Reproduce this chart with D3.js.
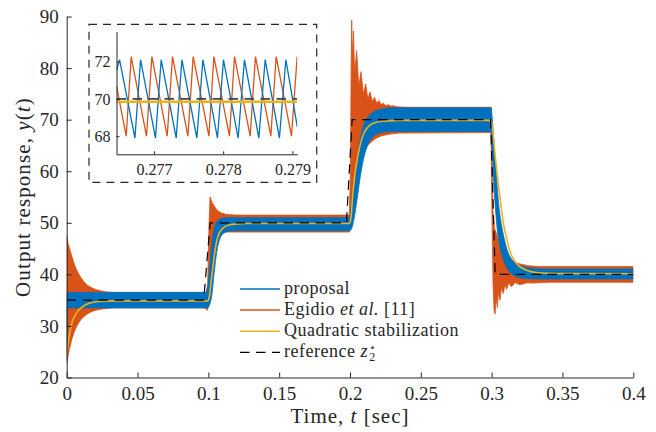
<!DOCTYPE html>
<html>
<head>
<meta charset="utf-8">
<script src="https://cdn.jsdelivr.net/npm/d3@7"></script>
<style>
body { margin: 0; background: #fff; }
text { font-family: 'Liberation Serif', 'Times New Roman', serif; fill: #262626; }
.axis path, .axis line { stroke: #262626; stroke-width: 1; }
</style>
</head>
<body>
<div id="chart"></div>
<script>
// ---- data ----
var xTicks = [0, 0.05, 0.1, 0.15, 0.2, 0.25, 0.3, 0.35, 0.4];
var xTickLabels = ["0", "0.05", "0.1", "0.15", "0.2", "0.25", "0.3", "0.35", "0.4"];
var yTicks = [20, 30, 40, 50, 60, 70, 80, 90];
var yTickLabels = ["20", "30", "40", "50", "60", "70", "80", "90"];

// reference z2*
var refT = [0, 0.0967, 0.1013, 0.1975, 0.2015, 0.2993, 0.3025, 0.4];
var refY = [35, 35, 50, 50, 70, 70, 40, 40];

// proposal: envelope of the fast oscillation (upper / lower)
var blueT  = [0, 0.0004, 0.098, 0.0995, 0.101, 0.1025, 0.104, 0.106, 0.108, 0.111, 0.115, 0.12,
              0.1995, 0.201, 0.203, 0.205, 0.207, 0.2095, 0.212, 0.215, 0.219, 0.2235, 0.23,
              0.2995, 0.3005, 0.302, 0.3035, 0.305, 0.307, 0.309, 0.3115, 0.3145, 0.319, 0.326, 0.335, 0.4];
var blueHi = [36.5, 36.5, 36.5, 37.5, 41.5, 46, 48.8, 50.2, 50.7, 50.95, 51.0, 51.0,
              51.0, 54, 58.5, 62.5, 66, 68.8, 70.3, 71.2, 71.8, 72.1, 72.3,
              72.3, 70, 64, 58.5, 53.5, 49.5, 46.8, 44.3, 42.8, 41.8, 41.3, 41.05, 41.05];
var blueLo = [23.5, 33.5, 33.5, 33.5, 34.2, 36, 40, 44.5, 46.8, 48.0, 48.4, 48.45,
              48.45, 48.8, 51, 54.5, 58.5, 62.3, 64.7, 66.3, 67.2, 67.55, 67.7,
              67.7, 63, 55.5, 50, 46.5, 44, 42.3, 40.9, 40, 39.4, 39.15, 39.1, 39.1];

// Egidio et al.: envelope (upper edge, lower edge)
var orangeHiT = [0, 0.001, 0.002, 0.0035, 0.005, 0.0065, 0.008, 0.01, 0.012, 0.0145, 0.017, 0.02, 0.024, 0.028, 0.033,
                 0.0985, 0.0995, 0.1005, 0.1012, 0.1018, 0.1025, 0.104, 0.106, 0.109, 0.113, 0.12,
                 0.1995, 0.2003, 0.2008, 0.2012, 0.2017, 0.2024, 0.2033, 0.2047, 0.2062, 0.2078, 0.2094, 0.2111,
                 0.2126, 0.2141, 0.2157, 0.2172, 0.219, 0.2205, 0.222, 0.2235, 0.2253, 0.227, 0.229, 0.2306, 0.233, 0.236, 0.24,
                 0.2998, 0.3003, 0.301, 0.302, 0.3035, 0.3055, 0.308, 0.3118, 0.3155, 0.3188, 0.325, 0.333, 0.4];
var orangeHiY = [47.3, 46, 45, 43.6, 42.3, 41.2, 40.3, 39.4, 38.6, 37.9, 37.5, 37.1, 36.8, 36.6, 36.5,
                 36.5, 38, 50, 55, 54.6, 54.0, 53.3, 52.5, 51.9, 51.6, 51.5,
                 51.5, 60, 80, 89.3, 82, 87.2, 79, 83.4, 76.5, 79.3, 75, 76.9,
                 74, 75.4, 73.5, 74.3, 73.2, 73.7, 72.9, 73.2, 72.7, 72.9, 72.6, 72.7, 72.5, 72.45, 72.4,
                 72.4, 62, 52, 49, 47.8, 45.8, 44.2, 43.1, 42.5, 42.1, 41.7, 41.5, 41.5];
var orangeLoT = [0, 0.001, 0.002, 0.0035, 0.005, 0.0065, 0.008, 0.01, 0.012, 0.0145, 0.017, 0.02, 0.024, 0.028, 0.033,
                 0.097, 0.0985, 0.0995, 0.1005, 0.1015, 0.1025, 0.104, 0.106, 0.109, 0.113,
                 0.1995, 0.2005, 0.201, 0.2025, 0.204, 0.206, 0.208, 0.2106, 0.214, 0.2177, 0.2224, 0.2283, 0.235,
                 0.2995, 0.3003, 0.301, 0.3017, 0.3024, 0.3032, 0.304, 0.3048, 0.3059, 0.307, 0.3082, 0.3094, 0.3106,
                 0.312, 0.3141, 0.3165, 0.32, 0.325, 0.3294, 0.34, 0.4];
var orangeLoY = [23.0, 24.2, 25.6, 27.3, 28.6, 29.6, 30.4, 31.2, 31.8, 32.3, 32.7, 33.0, 33.25, 33.4, 33.5,
                 33.5, 33.3, 33.0, 36, 42, 45.5, 46.8, 47.7, 48.1, 48.2,
                 48.2, 49, 52, 56, 59, 61.5, 63.3, 64.4, 65.4, 66.3, 66.9, 67.2, 67.4,
                 67.5, 50, 38, 33, 32.3, 35.5, 33.6, 36.5, 35.0, 37.5, 36.3, 38.0, 37.1,
                 38.3, 37.6, 38.4, 38.0, 38.35, 38.3, 38.46, 38.46];

// Quadratic stabilization
var yellowT = [0, 0.001, 0.0025, 0.004, 0.006, 0.0085, 0.011, 0.015, 0.02, 0.027, 0.035,
               0.0995, 0.1007, 0.102, 0.1035, 0.1047, 0.1059, 0.1075, 0.1094, 0.112, 0.1153, 0.12, 0.127,
               0.1995, 0.2007, 0.2018, 0.2033, 0.2052, 0.2075, 0.21, 0.2135, 0.2175, 0.224, 0.235,
               0.2995, 0.3007, 0.3025, 0.3045, 0.3065, 0.3085, 0.311, 0.313, 0.3176, 0.3247, 0.333, 0.345, 0.4];
var yellowY = [23.8, 26.5, 29.2, 30.9, 32.1, 33.1, 33.7, 34.3, 34.65, 34.8, 34.85,
               34.85, 35.7, 38.8, 42.1, 44.6, 46.5, 47.9, 48.7, 49.3, 49.6, 49.78, 49.85,
               49.85, 51, 55, 59, 62.5, 65.5, 67.5, 68.8, 69.4, 69.7, 69.85,
               69.85, 68, 63, 58, 53.5, 49.6, 46.5, 44.4, 42.1, 40.8, 40.3, 40.15, 40.12];

// zoomed inset
var insetXTicks = [0.277, 0.278, 0.279];
var insetXTickLabels = ["0.277", "0.278", "0.279"];
var insetYTicks = [68, 70, 72];
var insetYTickLabels = ["68", "70", "72"];
var insetBlueT = [0.27646, 0.276504, 0.276726, 0.276807, 0.277023, 0.277105, 0.277322, 0.277404, 0.27762, 0.277707,
                  0.277918, 0.278004, 0.278216, 0.278307, 0.278515, 0.278606, 0.278812, 0.278905, 0.27907];
var insetBlueY = [71.5, 72.1, 67.9, 72.1, 67.9, 72.1, 67.9, 72.1, 67.9, 72.1,
                  67.9, 72.1, 67.9, 72.1, 67.9, 72.1, 67.9, 72.1, 68.5];
var insetOrangeT = [0.27646, 0.2766, 0.276672, 0.276893, 0.276971, 0.277192, 0.277268, 0.277491, 0.277567, 0.277794,
                    0.277866, 0.278091, 0.278163, 0.27839, 0.278466, 0.278688, 0.278765, 0.278986, 0.279068];
var insetOrangeY = [70.7, 68.0, 72.27, 68.0, 72.27, 68.0, 72.27, 68.0, 72.27, 68.0,
                    72.27, 68.0, 72.27, 68.0, 72.27, 68.0, 72.27, 68.0, 72.27];
var insetYellowT = [0.27646, 0.27907];
var insetYellowY = [69.85, 69.85];
var insetRefT = [0.27646, 0.27907];
var insetRefY = [70, 70];

var legendNames = ["proposal", "Egidio", "Quadratic stabilization", "reference"];

// ---- layout ----
var svgWidth = 656, svgHeight = 432;
var blue = "#0072BD", orange = "#D95319", yellow = "#EDB120";

var svg = d3.select("#chart").append("svg")
    .attr("width", svgWidth)
    .attr("height", svgHeight);

var x = d3.scaleLinear().domain([0, 0.4]).range([66.7, 633.3]);
var y = d3.scaleLinear().domain([20, 90]).range([377.5, 16.5]);

svg.append("clipPath").attr("id", "clipMain")
    .append("rect")
    .attr("x", x(0)).attr("y", y(90))
    .attr("width", x(0.4) - x(0)).attr("height", y(20) - y(90));

var plot = svg.append("g").attr("clip-path", "url(#clipMain)");

// Egidio envelope as a closed polygon
var orangePts = orangeHiT.map((t, i) => [t, orangeHiY[i]])
    .concat(orangeLoT.map((t, i) => [t, orangeLoY[i]]).reverse());
plot.append("path")
    .attr("d", d3.line().x(d => x(d[0])).y(d => y(d[1]))(orangePts) + "Z")
    .attr("fill", orange)
    .attr("stroke", orange)
    .attr("stroke-width", 0.8);

// proposal envelope
plot.append("path")
    .datum(blueT)
    .attr("d", d3.area()
        .x(t => x(t))
        .y0((t, i) => y(blueLo[i]))
        .y1((t, i) => y(blueHi[i]))
        .curve(d3.curveMonotoneX))
    .attr("fill", blue)
    .attr("stroke", blue)
    .attr("stroke-width", 0.8);

// quadratic stabilization
plot.append("path")
    .datum(yellowT)
    .attr("d", d3.line().x(t => x(t)).y((t, i) => y(yellowY[i])).curve(d3.curveMonotoneX))
    .attr("fill", "none")
    .attr("stroke", yellow)
    .attr("stroke-width", 1.6);

// reference
plot.append("path")
    .datum(refT)
    .attr("d", d3.line().x(t => x(t)).y((t, i) => y(refY[i])))
    .attr("fill", "none")
    .attr("stroke", "#000")
    .attr("stroke-width", 1.2)
    .attr("stroke-dasharray", "9.5,6.5");

// axes
var xAxis = svg.append("g")
    .attr("class", "axis")
    .attr("transform", `translate(0,${y(20)})`)
    .call(d3.axisBottom(x).tickValues(xTicks).tickSizeInner(-5).tickSizeOuter(0)
        .tickFormat((d, i) => xTickLabels[i]));
xAxis.selectAll("text").attr("y", 22.5).attr("dy", 0)
    .style("font-size", "19px").style("font-family", "'Liberation Serif', serif").attr("fill", "#262626");

var yAxis = svg.append("g")
    .attr("class", "axis")
    .attr("transform", `translate(${x(0)},0)`)
    .call(d3.axisLeft(y).tickValues(yTicks).tickSizeInner(-5).tickSizeOuter(0)
        .tickFormat((d, i) => yTickLabels[i]));
yAxis.selectAll("text").attr("x", -8).attr("dy", "0.32em")
    .style("font-size", "19px").style("font-family", "'Liberation Serif', serif").attr("fill", "#262626");

// axis labels
var xl = svg.append("text")
    .attr("x", (x(0) + x(0.4)) / 2)
    .attr("y", 423)
    .attr("text-anchor", "middle")
    .style("font-size", "21px")
    .style("letter-spacing", "1px");
xl.append("tspan").text("Time, ");
xl.append("tspan").attr("font-style", "italic").text("t");
xl.append("tspan").text(" [sec]");

var yl = svg.append("text")
    .attr("transform", `translate(30,${(y(20) + y(90)) / 2}) rotate(-90)`)
    .attr("text-anchor", "middle")
    .style("font-size", "21px")
    .style("letter-spacing", "1.1px");
yl.append("tspan").text("Output response, ");
yl.append("tspan").attr("font-style", "italic").text("y");
yl.append("tspan").text("(");
yl.append("tspan").attr("font-style", "italic").text("t");
yl.append("tspan").text(")");

// legend
var legY0 = 289, legDy = 21.1, legX0 = 240, legX1 = 280;
var legStyles = [
    {stroke: blue, dash: null},
    {stroke: orange, dash: null},
    {stroke: yellow, dash: null},
    {stroke: "#000", dash: "9.5,6.5"}
];
legendNames.forEach(function(name, i) {
    var ly = legY0 + i * legDy;
    svg.append("line")
        .attr("x1", legX0).attr("x2", legX1)
        .attr("y1", ly).attr("y2", ly)
        .attr("stroke", legStyles[i].stroke)
        .attr("stroke-width", i == 3 ? 1.2 : 1.5)
        .attr("stroke-dasharray", legStyles[i].dash);
    var t = svg.append("text")
        .attr("x", 284).attr("y", ly + 4.5)
        .style("font-size", "18px")
        .style("letter-spacing", "0.5px");
    if (i == 1) {
        t.append("tspan").text("Egidio ");
        t.append("tspan").attr("font-style", "italic").text("et al.");
        t.append("tspan").text(" [11]");
    } else if (i == 3) {
        // z with a star superscript and a 2 subscript stacked, all in one text
        t.append("tspan").text("reference ");
        t.append("tspan").attr("font-style", "italic").text("z");
        t.append("tspan").attr("dy", -6).attr("dx", 1)
            .style("font-size", "11px").style("letter-spacing", "0px")
            .style("font-family", "'DejaVu Sans', sans-serif").text("\u22C6");
        t.append("tspan").attr("dy", 10).attr("dx", -6.5)
            .style("font-size", "12px").style("letter-spacing", "0px").text("2");
    } else {
        t.text(name);
    }
});

// ---- inset ----
svg.append("rect")
    .attr("x", 89).attr("y", 24.3)
    .attr("width", 227.7).attr("height", 158)
    .attr("fill", "#fff")
    .attr("stroke", "#262626")
    .attr("stroke-width", 1.2)
    .attr("stroke-dasharray", "8,6");

var xi = d3.scaleLinear().domain([0.27646, 0.27907]).range([116.5, 297.3]);
var yi = d3.scaleLinear().domain([67.03, 73.6]).range([154.3, 31.7]);

svg.append("clipPath").attr("id", "clipInset")
    .append("rect")
    .attr("x", xi.range()[0]).attr("y", yi.range()[1])
    .attr("width", xi.range()[1] - xi.range()[0]).attr("height", yi.range()[0] - yi.range()[1]);

var inset = svg.append("g").attr("clip-path", "url(#clipInset)");

inset.append("path")
    .datum(insetOrangeT)
    .attr("d", d3.line().x(t => xi(t)).y((t, i) => yi(insetOrangeY[i])))
    .attr("fill", "none").attr("stroke", orange).attr("stroke-width", 1.3);
inset.append("path")
    .datum(insetBlueT)
    .attr("d", d3.line().x(t => xi(t)).y((t, i) => yi(insetBlueY[i])))
    .attr("fill", "none").attr("stroke", blue).attr("stroke-width", 1.3);
inset.append("path")
    .datum(insetRefT)
    .attr("d", d3.line().x(t => xi(t)).y((t, i) => yi(insetRefY[i])))
    .attr("fill", "none").attr("stroke", "#444").attr("stroke-width", 1.6)
    .attr("stroke-dasharray", "9.5,6.5");
inset.append("path")
    .datum(insetYellowT)
    .attr("d", d3.line().x(t => xi(t)).y((t, i) => yi(insetYellowY[i])))
    .attr("fill", "none").attr("stroke", yellow).attr("stroke-width", 2.6);

var xiAxis = svg.append("g")
    .attr("class", "axis")
    .attr("transform", `translate(0,${yi.range()[0]})`)
    .call(d3.axisBottom(xi).tickValues(insetXTicks).tickSizeInner(-3).tickSizeOuter(0)
        .tickFormat((d, i) => insetXTickLabels[i]));
xiAxis.selectAll("text").attr("y", 20.7).attr("dy", 0)
    .style("font-size", "16px").style("font-family", "'Liberation Serif', serif").attr("fill", "#262626");

var yiAxis = svg.append("g")
    .attr("class", "axis")
    .attr("transform", `translate(${xi.range()[0]},0)`)
    .call(d3.axisLeft(yi).tickValues(insetYTicks).tickSizeInner(-3).tickSizeOuter(0)
        .tickFormat((d, i) => insetYTickLabels[i]));
yiAxis.selectAll("text").attr("x", -6).attr("dy", "0.32em")
    .style("font-size", "16px").style("font-family", "'Liberation Serif', serif").attr("fill", "#262626");
</script>
</body>
</html>
